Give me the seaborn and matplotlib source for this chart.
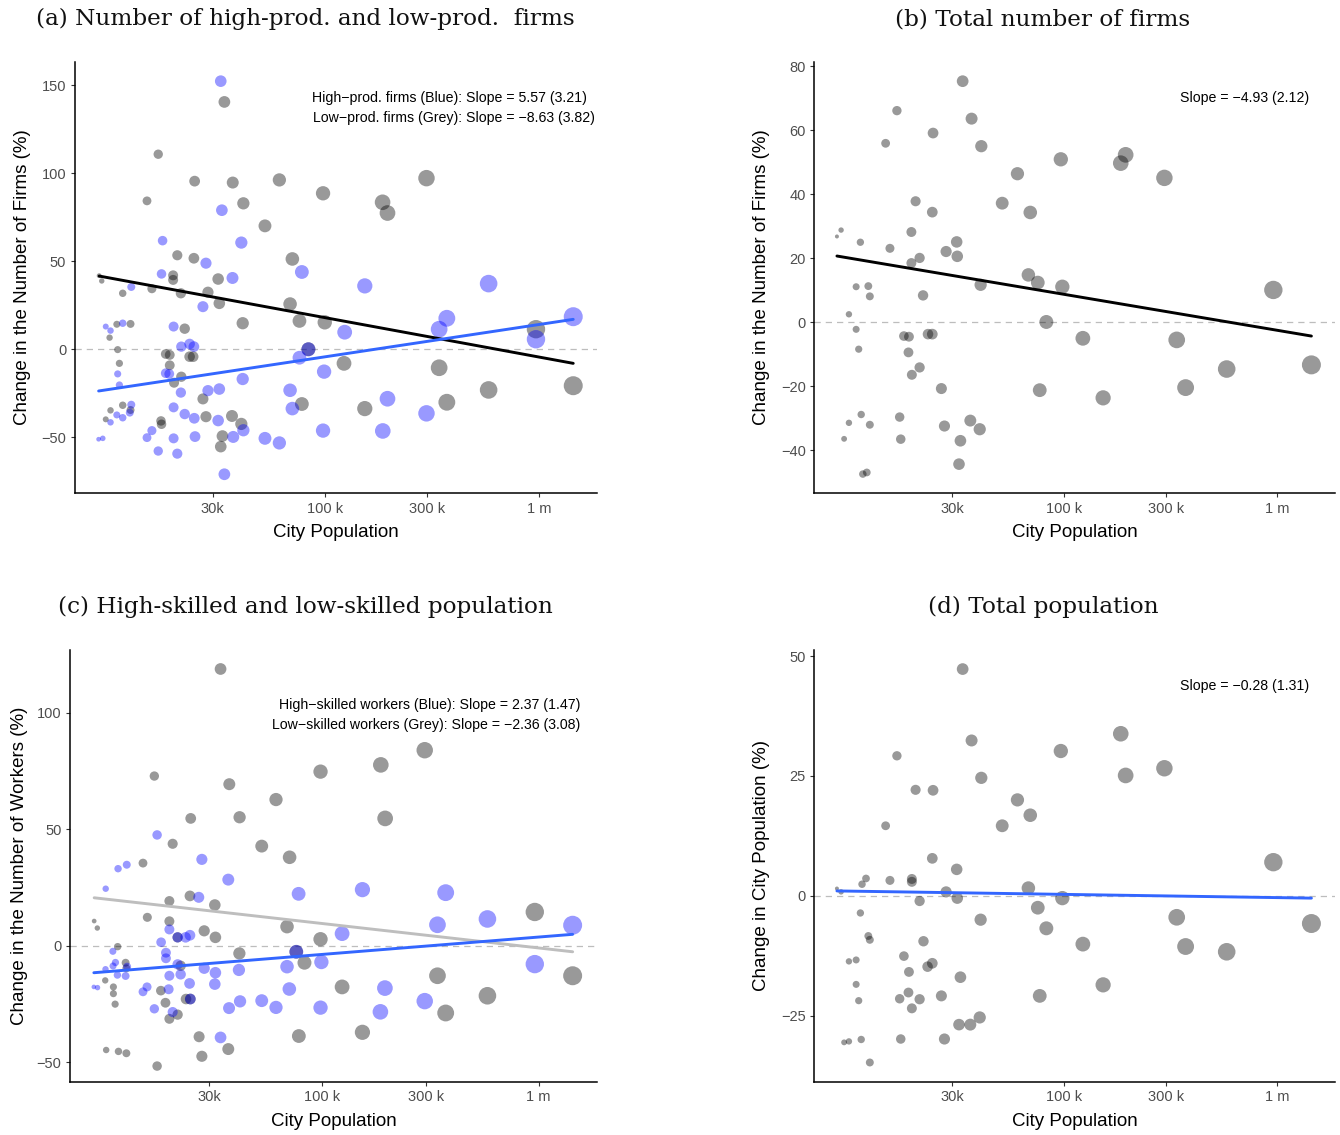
import numpy as np
import pandas as pd
import matplotlib
matplotlib.use("Agg")
import matplotlib.pyplot as plt
import seaborn as sns

sns.set_theme(style="ticks")
plt.rcParams['font.family'] = ['Liberation Sans', 'DejaVu Sans']
plt.rcParams['axes.unicode_minus'] = True

# ---------------- data (population in thousands, change in %) ----------------
# (a) high-productivity firms (blue)
hp_pop = [32.7, 33.1, 17.5, 40.8, 27.9, 78.2, 17.3, 37.1, 12.5, 27.0, 11.4, 9.5, 10.0, 19.7,
          21.4, 23.4, 24.5, 83.9, 76.2, 10.8, 18.1, 18.8, 11.0, 41.4, 99.3, 21.3, 28.5, 32.2,
          68.9, 70.6, 12.5, 12.3, 10.7, 11.4, 10.0, 19.7, 22.2, 24.6, 31.8, 41.7, 15.6, 14.8,
          19.7, 24.8, 37.4, 52.6, 61.4, 98.2, 16.7, 20.5, 34.0, 8.8, 9.2,
          153.8, 582.1, 371.5, 342.0, 123.9, 968.3, 1445.4, 196.3, 298.5, 186.6]
hp_chg = [152.3, 79.0, 61.7, 60.6, 48.9, 43.9, 42.8, 40.5, 35.4, 24.2, 14.8, 12.9, 10.6, 12.9,
          1.5, 3.0, 1.5, 0.0, -4.8, -14.0, -13.6, -14.0, -20.3, -16.9, -12.7, -24.6, -23.5, -22.6,
          -23.3, -33.7, -31.5, -36.0, -37.3, -38.9, -41.5, -33.0, -36.8, -39.2, -40.5, -46.0, -46.2, -50.2,
          -50.6, -49.6, -49.8, -50.6, -53.2, -46.2, -57.8, -59.3, -71.0, -51.1, -50.6,
          36.0, 37.3, 17.6, 11.4, 9.7, 5.7, 18.5, -28.1, -36.4, -46.4]

# (a) low-productivity firms (grey)
lp_pop = [34.0, 16.7, 24.7, 37.2, 61.4, 98.2, 14.8, 41.7, 52.6, 20.5, 24.5, 70.6, 19.6, 19.6,
          31.8, 8.85, 9.1, 11.4, 15.6, 21.3, 28.5, 32.2, 68.9, 76.2, 100.0, 41.4, 10.7, 12.4,
          9.9, 22.2, 10.8, 18.1, 18.9, 23.4, 24.3, 83.9, 11.0, 18.9, 19.8, 21.4, 27.0, 78.2,
          11.4, 12.4, 10.0, 9.5, 27.9, 36.9, 40.8, 17.2, 17.3, 33.3, 32.7,
          298.5, 186.2, 196.3, 968.3, 123.0, 342.0, 582.1, 1445.4, 153.8, 371.5]
lp_chg = [140.5, 110.8, 95.5, 94.7, 96.2, 88.6, 84.3, 82.9, 70.1, 53.4, 51.7, 51.3, 42.0, 39.4,
          39.9, 41.8, 38.8, 31.8, 34.4, 31.8, 32.4, 26.1, 25.7, 16.1, 15.3, 14.8, 14.2, 14.4,
          6.6, 11.7, -0.2, -2.7, -3.2, -4.2, -4.2, 0.0, -8.0, -9.1, -19.0, -15.6, -28.2, -31.1,
          -31.8, -34.5, -34.7, -39.8, -38.3, -37.9, -42.4, -40.7, -42.6, -49.3, -55.3,
          97.2, 83.5, 77.4, 11.4, -8.0, -10.5, -23.1, -20.7, -33.7, -30.1]

# (b) total number of firms
firms_pop = [33.7, 16.6, 37.1, 14.7, 24.5, 41.2, 97.0, 60.8, 20.3, 24.3, 51.6, 69.8, 9.1, 8.7,
             11.2, 15.4, 19.4, 31.6, 28.2, 31.8, 21.2, 19.4, 68.4, 75.7, 98.6, 40.9, 10.7, 12.2,
             12.4, 22.0, 9.9, 83.0, 10.7, 17.9, 18.9, 23.2, 24.3, 11.0, 18.8, 21.2, 19.5, 123.0,
             26.8, 77.3, 11.3, 9.9, 12.4, 17.1, 9.4, 17.3, 27.7, 36.6, 40.5, 32.9, 32.4, 11.5, 12.0,
             195.0, 185.0, 296.0, 957.0, 338.0, 579.0, 1442.0, 153.0, 372.0]
firms_chg = [75.3, 66.1, 63.6, 55.9, 59.1, 55.0, 50.9, 46.4, 37.8, 34.4, 37.2, 34.3, 28.8, 26.8,
             25.0, 23.1, 28.2, 25.1, 22.1, 20.6, 20.1, 18.5, 14.8, 12.4, 11.1, 11.7, 11.1, 11.3,
             8.1, 8.4, 2.5, 0.1, -2.2, -4.3, -4.5, -3.7, -3.7, -8.4, -9.4, -14.1, -16.4, -5.0,
             -20.7, -21.2, -28.8, -31.4, -32.0, -29.6, -36.4, -36.5, -32.4, -30.7, -33.4, -37.0, -44.3, -47.4, -46.9,
             52.3, 49.7, 45.1, 10.1, -5.5, -14.6, -13.3, -23.6, -20.4]

# (c) high-skilled workers (blue)
hs_pop = [17.2, 27.7, 12.45, 11.35, 36.7, 9.95, 77.6, 26.8, 19.6, 21.4, 23.3, 24.4, 17.95, 10.74,
          18.9, 18.9, 75.7, 98.9, 11.04, 12.5, 10.76, 9.93, 21.4, 28.4, 32.0, 41.1, 68.6, 11.27,
          12.3, 19.6, 22.1, 24.3, 31.8, 15.45, 14.8, 19.45, 70.3, 24.5, 16.7, 20.3, 37.0, 41.6,
          52.4, 61.0, 98.0, 33.8, 8.77, 9.12,
          153.1, 371.5, 340.4, 579.4, 1435.5, 123.3, 959.4, 194.5, 185.4, 297.2]
hs_chg = [47.6, 37.1, 34.8, 33.1, 28.4, 24.5, 22.3, 20.8, 7.0, 3.6, 3.6, 4.5, 1.5, -2.4,
          -3.0, -5.4, -2.6, -7.0, -7.2, -9.0, -8.7, -10.1, -8.0, -9.7, -11.6, -10.4, -9.0, -12.6,
          -13.0, -12.9, -12.3, -16.2, -16.5, -17.7, -19.8, -18.7, -18.6, -22.9, -27.1, -28.5, -26.8, -23.9,
          -23.6, -26.5, -26.6, -39.4, -17.7, -18.0,
          24.1, 22.8, 9.0, 11.5, 8.8, 5.2, -7.9, -18.2, -28.4, -23.8]

# (c) low-skilled workers (grey)
ls_pop = [33.8, 16.7, 98.0, 37.1, 61.0, 24.6, 41.4, 20.3, 52.4, 70.5, 14.8, 24.4, 19.6, 31.8,
          15.5, 19.6, 8.8, 9.1, 68.6, 28.4, 98.0, 21.4, 32.0, 11.3, 41.3, 75.7, 82.6, 12.3,
          12.4, 22.1, 9.9, 10.8, 10.8, 17.9, 11.0, 18.8, 23.4, 24.5, 21.4, 19.6, 26.9, 36.7,
          77.8, 10.0, 11.4, 12.4, 27.7, 17.2,
          297.2, 186.2, 195.0, 959.4, 123.3, 340.4, 1435.5, 579.4, 371.5, 153.1]
ls_chg = [118.9, 72.9, 74.8, 69.4, 62.8, 54.7, 55.2, 43.8, 42.8, 38.0, 35.5, 21.4, 19.2, 17.5,
          12.2, 10.5, 10.6, 7.6, 8.2, 6.4, 2.8, 3.6, 3.6, -0.4, -3.3, -2.6, -7.3, -7.3,
          -9.7, -8.6, -14.9, -17.7, -20.6, -19.3, -25.1, -24.5, -22.9, -22.9, -29.6, -31.4, -39.1, -44.4,
          -38.8, -44.8, -45.4, -46.2, -47.5, -51.7,
          84.0, 77.7, 54.7, 14.5, -17.7, -12.9, -12.9, -21.5, -28.9, -37.2]

# (d) total population
city_pop = [33.7, 16.6, 37.1, 97.0, 20.3, 24.5, 41.2, 14.7, 60.8, 69.8, 51.6, 24.3, 31.6, 11.9,
            11.4, 8.7, 9.1, 15.4, 19.5, 19.5, 28.2, 31.8, 21.2, 68.4, 75.7, 98.6, 40.9, 11.2,
            83.0, 12.2, 12.4, 22.1, 17.9, 18.9, 23.1, 24.3, 9.9, 10.7, 10.7, 11.0, 32.9, 77.3,
            17.1, 18.8, 21.2, 19.5, 26.8, 40.5, 36.6, 32.4, 27.7, 17.3, 11.3, 9.4, 9.9, 12.4,
            185.0, 195.0, 296.0, 957.0, 338.0, 1442.0, 372.0, 579.0, 153.0, 123.0]
city_chg = [47.3, 29.2, 32.4, 30.2, 22.1, 22.0, 24.6, 14.6, 20.0, 16.8, 14.6, 7.8, 5.5, 3.6,
            2.4, 1.5, 0.8, 3.2, 3.5, 2.9, 0.8, -0.5, -1.1, 1.6, -2.5, -0.5, -5.0, -3.6,
            -6.8, -8.4, -9.2, -9.5, -12.6, -15.9, -14.8, -14.1, -13.7, -13.4, -18.5, -21.9, -17.0, -20.9,
            -21.5, -20.2, -21.6, -23.5, -20.9, -25.4, -26.9, -26.9, -29.9, -29.9, -30.0, -30.6, -30.4, -34.8,
            33.8, 25.1, 26.6, 7.0, -4.5, -5.8, -10.6, -11.7, -18.6, -10.1]

# fitted values at the smallest and largest city
fit_hp = [-23.7, 17.0]
fit_lp = [41.6, -8.0]
fit_firms = [20.7, -4.3]
fit_hs = [-11.6, 4.9]
fit_ls = [20.6, -2.6]
fit_city = [1.0, -0.5]

xtick_vals = [30, 100, 300, 1000]
xtick_labels = ['30k', '100 k', '300 k', '1 m']

# ---------------- styling ----------------
BLUE = '#0000ff'
GREY = '#000000'
LINE_BLUE = '#3366ff'

all_pop = np.array(hp_pop + lp_pop + firms_pop + hs_pop + ls_pop + city_pop)
lmin, lmax = np.log10(all_pop.min()), np.log10(all_pop.max())


def size_map(pops):
    # diameter grows with sqrt of rescaled log population (ggplot scale_size style)
    out = {}
    for p in pops:
        t = (np.log10(p) - lmin) / (lmax - lmin)
        d_px = 4 + 15 * np.sqrt(max(t, 0))
        out[p] = (d_px * 0.72) ** 2
    return out


def draw_panel(ax, series, fits, ylim, yticks, ylabel, notes, label_x, xlabel_y):
    ax.set_xscale('log')
    ax.axhline(0, color='#bdbdbd', lw=0.9, ls=(0, (5, 4)), zorder=0)
    for pop, chg, col in series:
        df = pd.DataFrame({'pop': pop, 'chg': chg})
        sns.scatterplot(data=df, x='pop', y='chg', size='pop', sizes=size_map(pop),
                        color=col, alpha=0.4, linewidth=0, legend=False, ax=ax, zorder=2)
    for pop, fit, col in fits:
        sns.lineplot(x=[min(pop), max(pop)], y=fit, color=col, lw=2.1, ax=ax, zorder=3)
    ax.set_xlim(6.8, 1860)
    ax.set_ylim(*ylim)
    ax.set_xticks(xtick_vals)
    ax.set_xticklabels(xtick_labels)
    ax.minorticks_off()
    ax.set_yticks(yticks)
    ax.tick_params(axis='both', colors='#333333', labelcolor='#4d4d4d', labelsize=10.5,
                   length=3, width=0.8, pad=3)
    for s in ['top', 'right']:
        ax.spines[s].set_visible(False)
    for s in ['left', 'bottom']:
        ax.spines[s].set_color('black')
        ax.spines[s].set_linewidth(1.1)
    ax.set_xlabel('City Population', fontsize=13.5, color='black')
    ax.set_ylabel(ylabel, fontsize=13.5, color='black')
    ax.xaxis.set_label_coords(0.5, xlabel_y)
    ax.yaxis.set_label_coords(label_x, 0.5)
    for x, y, txt, ha in notes:
        ax.text(x, y, txt, transform=ax.transAxes, ha=ha, va='center', fontsize=10.2, color='black')


fig = plt.figure(figsize=(13.4, 11.35), dpi=100)
ax_a = fig.add_axes([0.0557, 0.5654, 0.3896, 0.3800])
ax_b = fig.add_axes([0.6075, 0.5654, 0.3888, 0.3800])
ax_c = fig.add_axes([0.0522, 0.0470, 0.3933, 0.3804])
ax_d = fig.add_axes([0.6075, 0.0470, 0.3888, 0.3804])

draw_panel(ax_a,
           [(lp_pop, lp_chg, GREY), (hp_pop, hp_chg, BLUE)],
           [(lp_pop, fit_lp, 'black'), (hp_pop, fit_hp, LINE_BLUE)],
           (-81.8, 163.2), [-50, 0, 50, 100, 150],
           'Change in the Number of Firms (%)',
           [(0.4546, 0.9165, 'High\u2212prod. firms (Blue): Slope = 5.57 (3.21)', 'left'),
            (0.4565, 0.8702, 'Low\u2212prod. firms (Grey): Slope = \u22128.63 (3.82)', 'left')],
           -0.083, -0.072)

draw_panel(ax_b,
           [(firms_pop, firms_chg, GREY)],
           [(firms_pop, fit_firms, 'black')],
           (-53.4, 81.3), [-40, -20, 0, 20, 40, 60, 80],
           'Change in the Number of Firms (%)',
           [(0.950, 0.9165, 'Slope = \u22124.93 (2.12)', 'right')],
           -0.0845, -0.072)

draw_panel(ax_c,
           [(ls_pop, ls_chg, GREY), (hs_pop, hs_chg, BLUE)],
           [(ls_pop, fit_ls, '#bebebe'), (hs_pop, fit_hs, LINE_BLUE)],
           (-58.4, 127.1), [-50, 0, 50, 100],
           'Change in the Number of Workers (%)',
           [(0.9677, 0.8726, 'High\u2212skilled workers (Blue): Slope = 2.37 (1.47)', 'right'),
            (0.9677, 0.8263, 'Low\u2212skilled workers (Grey): Slope = \u22122.36 (3.08)', 'right')],
           -0.080, -0.073)

draw_panel(ax_d,
           [(city_pop, city_chg, GREY)],
           [(city_pop, fit_city, LINE_BLUE)],
           (-38.8, 51.3), [-25, 0, 25, 50],
           'Change in City Population (%)',
           [(0.950, 0.9166, 'Slope = \u22120.28 (1.31)', 'right')],
           -0.0845, -0.073)

serif = ['DejaVu Serif', 'Liberation Serif']
title_kw = dict(ha='center', va='center', fontsize=16.7, family=serif, color='#111111')
fig.text(0.2276, 0.9830, '(a) Number of high-prod. and low-prod.  firms', **title_kw)
fig.text(0.7784, 0.9830, '(b) Total number of firms', **title_kw)
fig.text(0.2276, 0.4656, '(c) High-skilled and low-skilled population', **title_kw)
fig.text(0.7784, 0.4656, '(d) Total population', **title_kw)

fig.savefig('out.png', dpi=100)
